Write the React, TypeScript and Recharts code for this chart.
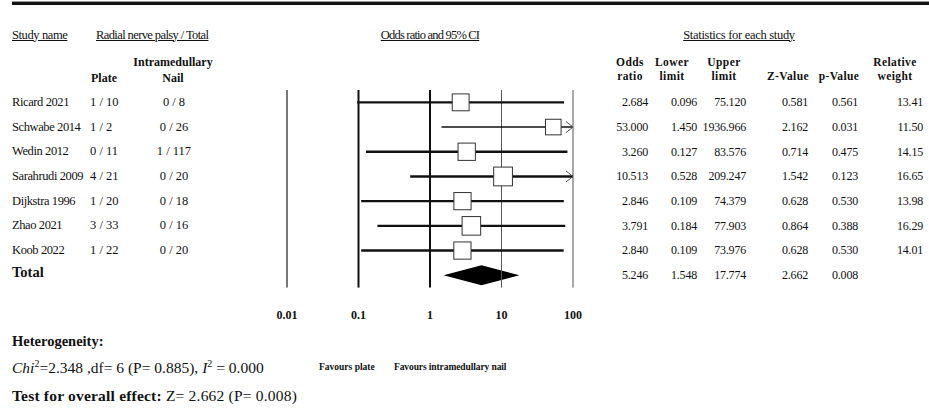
import React from 'react';
import { ScatterChart, Scatter, XAxis, YAxis, ReferenceLine, ReferenceArea } from 'recharts';

const studies = ['Ricard 2021', 'Schwabe 2014', 'Wedin 2012', 'Sarahrudi 2009', 'Dijkstra 1996', 'Zhao 2021', 'Koob 2022'];
const plateEvents = [1, 1, 0, 4, 1, 3, 1];
const plateTotal = [10, 2, 11, 21, 20, 33, 22];
const nailEvents = [0, 0, 1, 0, 0, 0, 0];
const nailTotal = [8, 26, 117, 20, 18, 16, 20];

const oddsRatio = [2.684, 53.0, 3.26, 10.513, 2.846, 3.791, 2.84];
const lowerLimit = [0.096, 1.45, 0.127, 0.528, 0.109, 0.184, 0.109];
const upperLimit = [75.12, 1936.966, 83.576, 209.247, 74.379, 77.903, 73.976];
const zValue = [0.581, 2.162, 0.714, 1.542, 0.628, 0.864, 0.628];
const pValue = [0.561, 0.031, 0.475, 0.123, 0.53, 0.388, 0.53];
const relWeight = [13.41, 11.5, 14.15, 16.65, 13.98, 16.29, 14.01];

// pooled result: odds ratio, lower, upper, z, p
const totalStats = [5.246, 1.548, 17.774, 2.662, 0.008];
const heterogeneity = { chi2: 2.348, df: 6, p: 0.885, i2: 0.0 };

const axisTicks = [0.01, 0.1, 1, 10, 100];

const W = 929;
const H = 409;
const PLOT_LEFT = 287;
const PLOT_RIGHT = 573;
const PLOT_TOP = 90;
const ROW_H = 24.7;
const ROWS = studies.length + 1;
const PLOT_BOTTOM = PLOT_TOP + ROWS * ROW_H;
const X_AXIS_H = 30;
const FONT = '"Liberation Serif", "Times New Roman", serif';

const rowY = (i: number) => PLOT_TOP + (i + 0.5) * ROW_H;

type TProps = {
  x: number;
  y: number;
  a?: 'start' | 'middle' | 'end';
  size?: number;
  bold?: boolean;
  ls?: number;
  underline?: boolean;
  children: React.ReactNode;
};

const T = ({ x, y, a = 'start', size = 12.5, bold, ls, underline, children }: TProps) => {
  const w = 320;
  const left = a === 'start' ? x : a === 'middle' ? x - w / 2 : x - w;
  return (
    <div
      style={{
        position: 'absolute',
        left,
        top: y - size * 0.6,
        width: w,
        height: size * 1.2,
        lineHeight: `${size * 1.2}px`,
        fontSize: size,
        fontWeight: bold ? 700 : 400,
        textAlign: a === 'start' ? 'left' : a === 'middle' ? 'center' : 'right',
        whiteSpace: 'nowrap',
        fontFamily: FONT,
        letterSpacing: ls,
        textDecoration: underline ? 'underline' : undefined,
        color: '#111',
      }}
    >
      {children}
    </div>
  );
};

const Sup = ({ children }: { children: React.ReactNode }) => (
  <span style={{ fontSize: 10, position: 'relative', top: -6, lineHeight: 0 }}>{children}</span>
);

const squares = studies.map((s, i) => ({ name: s, x: oddsRatio[i], y: i, w: relWeight[i] }));
const arrows = studies
  .map((s, i) => ({ name: s, x: 100, y: i, up: upperLimit[i] }))
  .filter((d) => d.up > 100);

const Square = (props: any) => {
  const { cx, cy, payload } = props;
  const s = 4.6 * Math.sqrt(payload.w);
  return <rect x={cx - s / 2} y={cy - s / 2} width={s} height={s} fill="#fff" stroke="#333" strokeWidth={1} />;
};

const Chevron = (props: any) => {
  const { cx, cy } = props;
  return <path d={`M${cx - 7},${cy - 5.5} L${cx},${cy} L${cx - 7},${cy + 5.5}`} fill="none" stroke="#555" strokeWidth={1} />;
};

const Diamond = (props: any) => {
  const { x, y, width, height } = props;
  const mx = x + width / 2;
  const my = y + height / 2;
  return <polygon points={`${x},${my} ${mx},${y} ${x + width},${my} ${mx},${y + height}`} fill="#000" />;
};

const gridStyle: Record<number, { stroke: string; w: number }> = {
  0.01: { stroke: '#777', w: 2 },
  0.1: { stroke: '#111', w: 2 },
  1: { stroke: '#111', w: 2 },
  10: { stroke: '#555', w: 1 },
  100: { stroke: '#555', w: 1 },
};

// stats columns: right edge of values, header centre
const statCols = [
  { right: 648, head: 630, h1: 'Odds', h2: 'ratio' },
  { right: 697, head: 672, h1: 'Lower', h2: 'limit' },
  { right: 746, head: 724, h1: 'Upper', h2: 'limit' },
  { right: 808, head: 788, h1: '', h2: 'Z-Value' },
  { right: 858, head: 839, h1: '', h2: 'p-Value' },
  { right: 923, head: 895, h1: 'Relative', h2: 'weight' },
];

const ForestPlot = () => {
  const rowsStats = studies.map((_, i) => [
    oddsRatio[i].toFixed(3),
    lowerLimit[i].toFixed(3),
    upperLimit[i].toFixed(3),
    zValue[i].toFixed(3),
    pValue[i].toFixed(3),
    relWeight[i].toFixed(2),
  ]);
  const totalRow = totalStats.map((v) => v.toFixed(3));

  return (
    <div style={{ position: 'absolute', left: 0, top: 0, width: W, height: H, background: '#fff', overflow: 'hidden' }}>
      <div style={{ position: 'absolute', left: 12, top: 1, width: W - 12, height: 1, background: '#999' }} />
      <div style={{ position: 'absolute', left: 12, top: 2, width: W - 12, height: 3, background: '#111' }} />

      <ScatterChart
        width={W}
        height={H}
        margin={{ top: PLOT_TOP, right: W - PLOT_RIGHT, bottom: H - PLOT_BOTTOM - X_AXIS_H, left: PLOT_LEFT }}
      >
        <XAxis
          type="number"
          dataKey="x"
          scale="log"
          domain={[0.01, 100]}
          ticks={axisTicks}
          interval={0}
          allowDataOverflow
          axisLine={false}
          tickLine={false}
          tickMargin={17}
          height={X_AXIS_H}
          tickFormatter={(v: number) => String(v)}
          tick={{ fontFamily: FONT, fontSize: 12, fontWeight: 700, fill: '#111' }}
        />
        <YAxis type="number" dataKey="y" domain={[-0.5, ROWS - 0.5]} reversed hide allowDataOverflow />
        {axisTicks.map((t) => (
          <ReferenceLine key={t} x={t} stroke={gridStyle[t].stroke} strokeWidth={gridStyle[t].w} />
        ))}
        {studies.map((s, i) => (
          <ReferenceLine
            key={s}
            segment={[
              { x: lowerLimit[i], y: i },
              { x: Math.min(upperLimit[i], 100), y: i },
            ]}
            stroke="#111"
            strokeWidth={relWeight[i] < 12 ? 1.6 : 2.4}
          />
        ))}
        <ReferenceArea
          x1={totalStats[1]}
          x2={totalStats[2]}
          y1={ROWS - 1 - 0.4}
          y2={ROWS - 1 + 0.4}
          shape={Diamond}
        />
        <Scatter data={squares} shape={Square} isAnimationActive={false} />
        <Scatter data={arrows} shape={Chevron} isAnimationActive={false} />
      </ScatterChart>

      {/* left table */}
      <T x={12} y={35} underline ls={-0.4}>Study name</T>
      <T x={96} y={35} underline ls={-0.6}>Radial nerve palsy / Total</T>
      <T x={173} y={62} a="middle" bold size={12}>Intramedullary</T>
      <T x={104} y={78} a="middle" bold size={12}>Plate</T>
      <T x={173} y={78} a="middle" bold size={12}>Nail</T>
      {studies.map((s, i) => (
        <React.Fragment key={s}>
          <T x={12} y={rowY(i)} ls={-0.4}>{s}</T>
          <T x={90} y={rowY(i)}>{`${plateEvents[i]} / ${plateTotal[i]}`}</T>
          <T x={174} y={rowY(i)} a="middle">{`${nailEvents[i]} / ${nailTotal[i]}`}</T>
        </React.Fragment>
      ))}
      <T x={12} y={rowY(ROWS - 1) - 3} size={14.5} bold>Total</T>

      {/* plot title */}
      <T x={430} y={35} a="middle" underline ls={-0.8}>Odds ratio and 95% CI</T>

      {/* stats table */}
      <T x={739} y={35} a="middle" underline ls={-0.3}>Statistics for each study</T>
      {statCols.map((c, j) => (
        <React.Fragment key={j}>
          {c.h1 && <T x={c.head} y={63} a="middle" bold size={11.5} ls={0.4}>{c.h1}</T>}
          <T x={c.head} y={77} a="middle" bold size={11.5} ls={0.4}>{c.h2}</T>
          {rowsStats.map((r, i) => (
            <T key={i} x={c.right} y={rowY(i)} a="end" size={12} ls={-0.2}>{r[j]}</T>
          ))}
          {j < totalRow.length && (
            <T x={c.right} y={rowY(ROWS - 1)} a="end" size={12} ls={-0.2}>{totalRow[j]}</T>
          )}
        </React.Fragment>
      ))}

      {/* footer */}
      <T x={12} y={342} size={14.5} bold>Heterogeneity:</T>
      <T x={12} y={368} size={15.5}>
        <i>Chi</i>
        <Sup>2</Sup>
        {`=${heterogeneity.chi2.toFixed(3)} ,df= ${heterogeneity.df} (P= ${heterogeneity.p.toFixed(3)}), `}
        <i>I</i>
        <Sup>2</Sup>
        {` = ${heterogeneity.i2.toFixed(3)}`}
      </T>
      <T x={319} y={368} size={9.5} bold ls={0}>Favours plate</T>
      <T x={394} y={368} size={9.5} bold ls={-0.1}>Favours intramedullary nail</T>
      <T x={12} y={396} size={15.5} ls={0.2}>
        <b>Test for overall effect:</b>
        {` Z= ${totalStats[3].toFixed(3)} (P= ${totalStats[4].toFixed(3)})`}
      </T>
    </div>
  );
};

export default function App() {
  return <ForestPlot />;
}
